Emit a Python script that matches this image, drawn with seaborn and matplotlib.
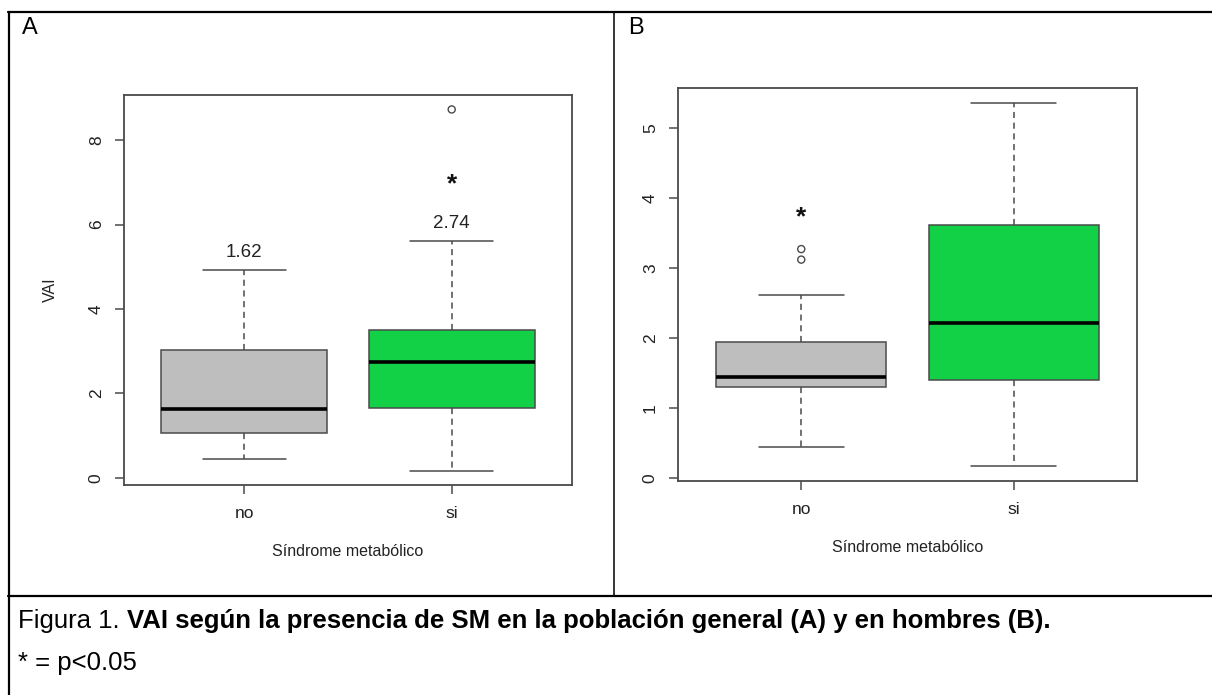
import numpy as np
import pandas as pd
import matplotlib
matplotlib.use("Agg")
import matplotlib.pyplot as plt
from matplotlib.lines import Line2D
import seaborn as sns

# ---- data ----
categories = ["no", "si"]
# Panel A: población general
a_low = [0.45, 0.17]
a_q1 = [1.05, 1.65]
a_med = [1.62, 2.74]
a_q3 = [3.02, 3.50]
a_high = [4.92, 5.60]
a_out_group = ["si"]
a_out_vals = [8.73]
a_med_labels = ["1.62", "2.74"]
# Panel B: hombres
b_low = [0.45, 0.17]
b_q1 = [1.30, 1.40]
b_med = [1.45, 2.22]
b_q3 = [1.94, 3.62]
b_high = [2.62, 5.36]
b_out_group = ["no", "no"]
b_out_vals = [3.12, 3.27]

colors = {"no": "#BEBEBE", "si": "#12D147"}
EDGE = "#4a4a4a"
TXT = "#222222"

sns.set_theme(style="white")
plt.rcParams["font.family"] = ["Liberation Sans", "DejaVu Sans"]

W, H = 1212, 695
fig = plt.figure(figsize=(W / 100, H / 100), dpi=100)


def frac(x0, y0, x1, y1):
    return [x0 / W, 1 - y1 / H, (x1 - x0) / W, (y1 - y0) / H]


def five_number_frame(low, q1, med, q3, high):
    rows = []
    for i, c in enumerate(categories):
        for v in (low[i], q1[i], med[i], q3[i], high[i]):
            rows.append({"grupo": c, "VAI": v})
    return pd.DataFrame(rows)


def draw_panel(ax, df, out_groups, out_vals, yticks):
    sns.boxplot(data=df, x="grupo", y="VAI", hue="grupo", order=categories,
                palette=colors, saturation=1, legend=False, whis=(0, 100),
                width=0.8, linecolor=EDGE, linewidth=1.0, ax=ax,
                boxprops=dict(edgecolor=EDGE, linewidth=1.1),
                medianprops=dict(color="black", linewidth=2.6),
                whiskerprops=dict(color=EDGE, linewidth=1.1, linestyle=(0, (4, 3))),
                capprops=dict(color=EDGE, linewidth=1.1))
    if out_vals:
        odf = pd.DataFrame({"grupo": out_groups, "VAI": out_vals})
        xs = [categories.index(g) for g in odf["grupo"]]
        ax.scatter(xs, odf["VAI"], s=26, facecolors="none", edgecolors=EDGE,
                   linewidths=1.0, zorder=5)
    lo = min(df["VAI"].min(), min(out_vals) if out_vals else 1e9)
    hi = max(df["VAI"].max(), max(out_vals) if out_vals else -1e9)
    span = hi - lo
    ax.set_ylim(lo - 0.04 * span, hi + 0.04 * span)
    ax.set_xlim(-0.58, 1.58)
    ax.set_yticks(yticks)
    ax.set_yticklabels([str(t) for t in yticks], rotation=90, va="center")
    ax.set_xticks([0, 1])
    ax.set_xticklabels(categories)
    ax.tick_params(axis="both", which="both", direction="out", length=6.5,
                   width=1.1, color=EDGE, labelsize=12.5, labelcolor=TXT,
                   left=True, bottom=True)
    ax.tick_params(axis="y", pad=8)
    ax.tick_params(axis="x", pad=8.5)
    for s in ax.spines.values():
        s.set_color(EDGE)
        s.set_linewidth(1.3)
        s.set_visible(True)
    ax.set_xlabel("Síndrome metabólico", fontsize=11.5, color=TXT, labelpad=17)


axA = fig.add_axes(frac(124, 95, 572, 485))
dfA = five_number_frame(a_low, a_q1, a_med, a_q3, a_high)
draw_panel(axA, dfA, a_out_group, a_out_vals, [0, 2, 4, 6, 8])
axA.set_ylabel("VAI", fontsize=11.5, color=TXT, labelpad=22)
for i, lab in enumerate(a_med_labels):
    axA.text(i, a_high[i] + 0.22, lab, ha="center", va="bottom", fontsize=13.5,
             color=TXT)
axA.text(1, 6.95, "*", ha="center", va="center", fontsize=19, fontweight="bold",
         color="#111111")

axB = fig.add_axes(frac(678, 88, 1137, 481))
dfB = five_number_frame(b_low, b_q1, b_med, b_q3, b_high)
draw_panel(axB, dfB, b_out_group, b_out_vals, [0, 1, 2, 3, 4, 5])
axB.set_ylabel("")
axB.text(0, 3.72, "*", ha="center", va="center", fontsize=19, fontweight="bold",
         color="#111111")

# ---- table borders ----
def fline(x0, y0, x1, y1, lw):
    fig.add_artist(Line2D([x0 / W, x1 / W], [1 - y0 / H, 1 - y1 / H],
                          transform=fig.transFigure, color="black", linewidth=lw))

fline(8, 12, W, 12, 1.6)
fline(9, 12, 9, H, 1.6)
fline(614, 12, 614, 596, 1.1)
fline(8, 596, W, 596, 1.6)

fig.text(22 / W, 1 - 28 / H, "A", fontsize=17, ha="left", va="center", color="black")
fig.text(628 / W, 1 - 28 / H, "B", fontsize=17, ha="left", va="center", color="black")

# ---- caption ----
CAP = 18.5
t1 = fig.text(18 / W, 1 - 621 / H, "Figura 1. ", fontsize=CAP, ha="left",
              va="center", color="black")
fig.canvas.draw()
bb = t1.get_window_extent(renderer=fig.canvas.get_renderer())
fig.text(bb.x1 / W, 1 - 621 / H,
         "VAI según la presencia de SM en la población general (A) y en hombres (B).",
         fontsize=CAP, fontweight="bold", ha="left", va="center", color="black")
fig.text(18 / W, 1 - 663 / H, "* = p<0.05", fontsize=CAP, ha="left",
         va="center", color="black")

fig.savefig("out.png", dpi=100)
